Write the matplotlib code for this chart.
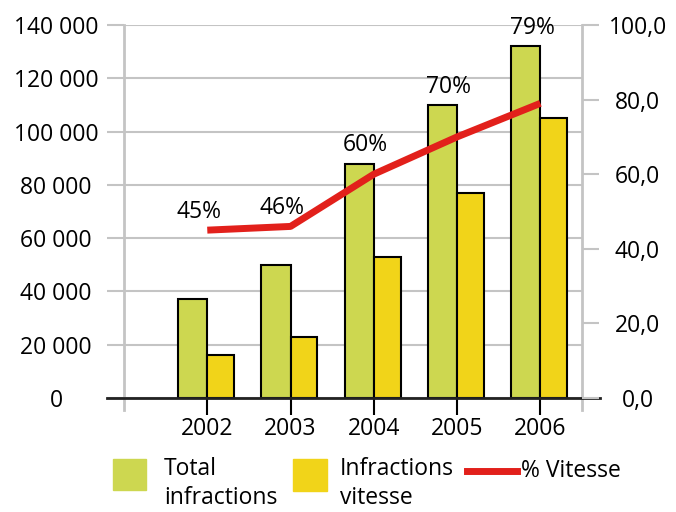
import matplotlib
matplotlib.use("Agg")
import matplotlib.pyplot as plt
from matplotlib.patches import Rectangle
from matplotlib.lines import Line2D
import numpy as np

years = ["2002", "2003", "2004", "2005", "2006"]
total_infractions = [37000, 50000, 88000, 110000, 132000]
infractions_vitesse = [16000, 23000, 53000, 77000, 105000]
pct_vitesse = [45, 46, 60, 70, 79]
left_ticks = [0, 20000, 40000, 60000, 80000, 100000, 120000, 140000]
left_labels = ["0", "20 000", "40 000", "60 000", "80 000", "100 000", "120 000", "140 000"]
right_ticks = [0, 20, 40, 60, 80, 100]
right_labels = ["0,0", "20,0", "40,0", "60,0", "80,0", "100,0"]

GREEN = "#cdd750"
YELLOW = "#f1d419"
RED = "#e2201b"
GRAY = "#c4c4c4"
FONT = "Open Sans"
FS = 16.5

plt.rcParams["font.family"] = [FONT, "DejaVu Sans"]

W, H = 676, 512
fig = plt.figure(figsize=(W / 100, H / 100), dpi=100)
ax = fig.add_axes([124 / W, 1 - 398 / H, 458 / W, 373 / H])
x = np.arange(len(years))
w = 0.35

ax.bar(x - w, total_infractions, w, align="edge", color=GREEN, edgecolor="black", lw=1.5, zorder=3)
ax.bar(x, infractions_vitesse, w * 0.92, align="edge", color=YELLOW, edgecolor="black", lw=1.5, zorder=3)
ax.set_xlim(-1, 4.5)
ax.set_ylim(0, 140000)

for s in ax.spines.values():
    s.set_visible(False)

ax.set_yticks(left_ticks)
ax.set_yticklabels(left_labels, fontsize=FS)
ax.tick_params(axis="y", length=12, width=1.5, color=GRAY, pad=37)
for lbl in ax.get_yticklabels():
    lbl.set_ha("center")
ax.yaxis.grid(True, color=GRAY, lw=1.5, zorder=0)
ax.set_axisbelow(True)

ax.set_xticks(x)
ax.set_xticklabels(years, fontsize=FS)
ax.tick_params(axis="x", length=12, width=1.5, color="black", pad=2)

# axis lines
ax.plot([0, 0], [-0.033, 1], transform=ax.transAxes, color=GRAY, lw=2, clip_on=False, zorder=1)
ax.plot([1, 1], [-0.033, 1], transform=ax.transAxes, color=GRAY, lw=2, clip_on=False, zorder=1)
ax.plot([-17 / 458, 1 + 18 / 458], [0, 0], transform=ax.transAxes, color="#222222", lw=2, clip_on=False, zorder=4)

ax2 = ax.twinx()
ax2.set_ylim(0, 100)
for s in ax2.spines.values():
    s.set_visible(False)
ax2.set_yticks(right_ticks)
ax2.set_yticklabels(right_labels, fontsize=FS)
ax2.tick_params(axis="y", length=12, width=1.5, color=GRAY, pad=28)
for lbl in ax2.get_yticklabels():
    lbl.set_ha("center")
ax2.plot(x, pct_vitesse, color=RED, lw=5, solid_capstyle="butt", zorder=5)

tops = [max(t / 140000 * 100, p) for t, p in zip(total_infractions, pct_vitesse)]
for xi, top, p in zip(x, tops, pct_vitesse):
    ax2.annotate(f"{p}%", (xi, top), xytext=(-6, 13), textcoords="offset points",
                 ha="center", va="center", fontsize=FS)

# legend
fig.add_artist(Rectangle((113 / W, 1 - 490 / H), 33 / W, 31 / H, transform=fig.transFigure, color=GREEN))
fig.text(164 / W, 1 - 457 / H, "Total\ninfractions", va="top", ha="left", fontsize=FS, linespacing=1.28)
fig.add_artist(Rectangle((293 / W, 1 - 491 / H), 34 / W, 32 / H, transform=fig.transFigure, color=YELLOW))
fig.text(340 / W, 1 - 457 / H, "Infractions\nvitesse", va="top", ha="left", fontsize=FS, linespacing=1.28)
fig.add_artist(Line2D([467 / W, 517 / W], [1 - 471 / H, 1 - 471 / H], transform=fig.transFigure, color=RED, lw=5))
fig.text(521 / W, 1 - 471 / H, "% Vitesse", va="center", ha="left", fontsize=FS)

fig.savefig("out.png", dpi=100)
